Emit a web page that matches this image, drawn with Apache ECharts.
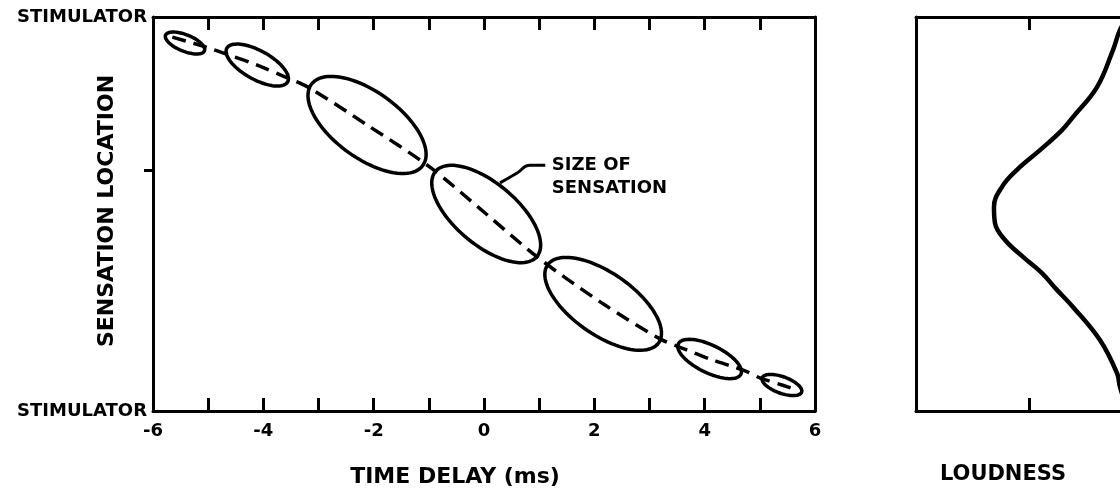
<!DOCTYPE html>
<html>
<head>
<meta charset="utf-8">
<script src="https://cdn.jsdelivr.net/npm/echarts@6/dist/echarts.min.js"></script>
<style>
html,body{margin:0;padding:0;background:#fff;}
#chart{width:1120px;height:491px;}
</style>
</head>
<body>
<div id="chart"></div>
<script>
// ---- data ----
// x tick labels (time delay, ms)
const xTickLabels = [-6, -4, -2, 0, 2, 4, 6];
// ellipses ("size of sensation"): centre (ms, location), semi-axes in ms units, tilt in degrees
const ellipseX     = [-5.42, -4.11, -2.12, 0.04, 2.16, 4.09, 5.40];
const ellipseY     = [ 9.34,  8.78,  7.26, 5.00, 2.72, 1.32, 0.66];
const ellipseMajor = [ 0.38,  0.63,  1.25, 1.20, 1.23, 0.63, 0.38];
const ellipseMinor = [ 0.15,  0.26,  0.60, 0.56, 0.56, 0.25, 0.15];
const ellipseTilt  = [ 22,    29,    36,   40,   35,   26,   20  ];
// dashed path of the sensation location
const pathX = [-5.65, -5.05, -4.57, -4.11, -3.61, -3.19, -2.12, -0.98, 0.04, 1.01, 2.16, 3.19, 3.64, 4.09, 4.73, 5.00, 5.40, 5.67];
const pathY = [ 9.49,  9.24,  9.01,  8.78,  8.48,  8.22,  7.26,  6.19, 5.00, 3.86, 2.72, 1.83, 1.57, 1.32, 1.02, 0.84, 0.66, 0.53];
// leader line to annotation
const leaderX = [0.29, 0.60, 0.83, 1.11];
const leaderY = [5.79, 6.04, 6.24, 6.24];
const annotX = 1.23, annotY = 5.95;
const annotText = 'SIZE OF\nSENSATION';
// loudness curve (loudness, location)
const loudX = [1.876, 1.805, 1.743, 1.602, 1.389, 1.292, 1.097, 0.894, 0.761, 0.690, 0.699, 0.788, 0.947, 1.115, 1.239, 1.389, 1.628, 1.779, 1.805, 1.858];
const loudY = [10.0,  9.67,  9.16,  8.22,  7.46,  7.13,  6.62,  6.12,  5.69,  5.18,  4.77,  4.34,  3.91,  3.50,  3.10,  2.64,  1.80,  0.96,  0.61,  0.15];
// y axis: location marks
const locEnds = [0, 10];
const locMidTick = [6.12];

const FONT = 'DejaVu Sans';
const zip = (a, b) => a.map((v, i) => [v, b[i]]);
const ellipseData = ellipseX.map((v, i) => [v, ellipseY[i], ellipseMajor[i], ellipseMinor[i], ellipseTilt[i]]);

const chart = echarts.init(document.getElementById('chart'), null, {renderer: 'canvas'});
const axisLine = {show: true, onZero: false, lineStyle: {color: '#000', width: 3}};
const tickStyle = {color: '#000', width: 3};

chart.setOption({
  animation: false,
  backgroundColor: '#fff',
  grid: [
    {left: 153, top: 17, width: 662, height: 394, containLabel: false, outerBoundsMode: 'none'},
    {left: 916, top: 17, width: 226, height: 394, containLabel: false, outerBoundsMode: 'none'}
  ],
  xAxis: [
    {
      gridIndex: 0, type: 'value', position: 'bottom', min: -6, max: 6, interval: 1,
      axisLine: axisLine,
      axisTick: {show: true, inside: true, length: 13, lineStyle: tickStyle},
      axisLabel: {
        show: true, margin: 11, color: '#000', fontFamily: FONT, fontWeight: 'bold', fontSize: 18,
        formatter: v => (xTickLabels.indexOf(v) >= 0 ? String(v) : '')
      },
      splitLine: {show: false}
    },
    {
      gridIndex: 0, type: 'value', position: 'top', min: -6, max: 6, interval: 1,
      axisLine: axisLine,
      axisTick: {show: true, inside: true, length: 13, lineStyle: tickStyle},
      axisLabel: {show: false}, splitLine: {show: false}
    },
    {
      gridIndex: 1, type: 'value', position: 'bottom', min: 0, max: 2, interval: 1,
      axisLine: axisLine,
      axisTick: {show: true, inside: true, length: 13, customValues: [1], lineStyle: tickStyle},
      axisLabel: {show: false}, splitLine: {show: false}
    },
    {
      gridIndex: 1, type: 'value', position: 'top', min: 0, max: 2, interval: 1,
      axisLine: axisLine,
      axisTick: {show: true, inside: true, length: 13, customValues: [1], lineStyle: tickStyle},
      axisLabel: {show: false}, splitLine: {show: false}
    }
  ],
  yAxis: [
    {
      gridIndex: 0, type: 'value', position: 'left', min: 0, max: 10,
      axisLine: axisLine,
      axisTick: {show: true, inside: false, length: 9, customValues: locMidTick, lineStyle: tickStyle},
      axisLabel: {
        show: true, margin: 6, customValues: locEnds, color: '#000', fontFamily: FONT, fontWeight: 'bold', fontSize: 18,
        formatter: () => 'STIMULATOR'
      },
      splitLine: {show: false}
    },
    {
      gridIndex: 0, type: 'value', position: 'right', min: 0, max: 10,
      axisLine: axisLine, axisTick: {show: false}, axisLabel: {show: false}, splitLine: {show: false}
    },
    {
      gridIndex: 1, type: 'value', position: 'left', min: 0, max: 10,
      axisLine: axisLine, axisTick: {show: false}, axisLabel: {show: false}, splitLine: {show: false}
    },
    {
      gridIndex: 1, type: 'value', position: 'right', min: 0, max: 10,
      axisLine: axisLine, axisTick: {show: false}, axisLabel: {show: false}, splitLine: {show: false}
    }
  ],
  series: [
    {
      type: 'line', xAxisIndex: 0, yAxisIndex: 0,
      data: zip(pathX, pathY), showSymbol: false, smooth: 0.3,
      lineStyle: {color: '#000', width: 3.5, type: [14, 8]}, z: 2
    },
    {
      type: 'custom', xAxisIndex: 0, yAxisIndex: 0,
      data: ellipseData,
      encode: {x: 0, y: 1},
      renderItem: function (params, api) {
        const c = api.coord([api.value(0), api.value(1)]);
        const k = api.size([1, 0])[0];
        const a = api.value(2) * k, b = api.value(3) * k;
        const t = api.value(4) * Math.PI / 180;
        const pts = [];
        const n = 90;
        for (let i = 0; i < n; i++) {
          const ang = 2 * Math.PI * i / n;
          const ex = a * Math.cos(ang), ey = b * Math.sin(ang);
          pts.push([c[0] + ex * Math.cos(t) - ey * Math.sin(t), c[1] + ex * Math.sin(t) + ey * Math.cos(t)]);
        }
        return {type: 'polygon', shape: {points: pts}, style: {fill: 'none', stroke: '#000', lineWidth: 3.5}};
      },
      z: 3
    },
    {
      type: 'line', xAxisIndex: 0, yAxisIndex: 0,
      data: zip(leaderX, leaderY), showSymbol: false, smooth: 0.5,
      lineStyle: {color: '#000', width: 3}, z: 3
    },
    {
      type: 'custom', xAxisIndex: 0, yAxisIndex: 0,
      data: [[annotX, annotY]],
      encode: {x: 0, y: 1},
      renderItem: function (params, api) {
        const c = api.coord([api.value(0), api.value(1)]);
        return {
          type: 'text', x: c[0], y: c[1],
          style: {text: annotText, fill: '#000', font: 'bold 18px "DejaVu Sans"', lineHeight: 23, align: 'left', verticalAlign: 'middle'}
        };
      },
      z: 4
    },
    {
      type: 'line', xAxisIndex: 2, yAxisIndex: 2,
      data: zip(loudX, loudY), showSymbol: false, smooth: 0.4,
      lineStyle: {color: '#000', width: 4.5}, clip: true
    }
  ],
  graphic: [
    {type: 'text', x: 107, y: 211, rotation: Math.PI / 2, style: {text: 'SENSATION LOCATION', fill: '#000', font: 'bold 22px "DejaVu Sans"', align: 'center', verticalAlign: 'middle'}},
    {type: 'text', x: 455, y: 477, style: {text: 'TIME DELAY (ms)', fill: '#000', font: 'bold 22px "DejaVu Sans"', align: 'center', verticalAlign: 'middle'}},
    {type: 'text', x: 1003, y: 475, style: {text: 'LOUDNESS', fill: '#000', font: 'bold 21px "DejaVu Sans"', align: 'center', verticalAlign: 'middle'}}
  ]
});
</script>
</body>
</html>
